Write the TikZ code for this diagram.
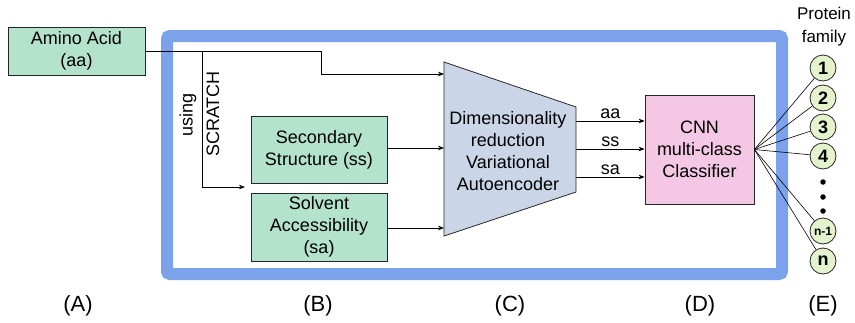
\documentclass[tikz,border=0pt]{standalone}
\usepackage{fontspec}
\setmainfont{Liberation Sans}
\usetikzlibrary{arrows.meta}
\definecolor{frameblue}{HTML}{7BA2EA}
\definecolor{boxgreen}{HTML}{B3E2CD}
\definecolor{vaeblue}{HTML}{CBD5E8}
\definecolor{cnnpink}{HTML}{F4C8E4}
\definecolor{circgreen}{HTML}{E4F2CE}
\begin{document}
\begin{tikzpicture}[x=1pt,y=-1pt,
  font=\fontsize{18}{22}\selectfont,
  inbox/.style={draw=black!85,fill=boxgreen,line width=0.8pt,align=center,inner sep=0pt},
  arr/.style={-{Stealth[length=6pt,width=4.5pt]},line width=0.6pt},
  fanline/.style={line width=0.6pt},
  fam/.style={circle,draw=black!85,fill=circgreen,line width=0.8pt,minimum size=26pt,inner sep=0pt,font=\fontsize{18}{18}\selectfont\bfseries},
  dotn/.style={circle,fill=black,minimum size=5.5pt,inner sep=0pt},
  lab/.style={font=\fontsize{22}{22}\selectfont}]
\useasboundingbox (0,0) rectangle (855,322);
% blue frame
\draw[frameblue,line width=12pt,rounded corners=3pt] (167,36) rectangle (782,274);
% nodes
\node[inbox,minimum width=137pt,minimum height=48pt] (aa) at (76.5,51) {Amino Acid\\(aa)};
\node[inbox,minimum width=136pt,minimum height=67pt] (ss) at (319,149.5) {Secondary\\Structure (ss)};
\node[inbox,minimum width=136pt,minimum height=68pt] (sa) at (319,227) {Solvent\\Accessibility\\(sa)};
\draw[black!85,fill=vaeblue,line width=0.8pt] (444,62) -- (576,107) -- (576,192) -- (444,236) -- cycle;
\node[align=center] (vae) at (508,151) {Dimensionality\\reduction\\Variational\\Autoencoder};
\node[draw=black!85,fill=cnnpink,line width=0.8pt,minimum width=109pt,minimum height=109pt,align=center,inner sep=0pt] (cnn) at (699.5,149.5) {CNN\\multi-class\\Classifier};
% text labels
\node[rotate=90] (using) at (188,115) {using};
\node[rotate=90] (scratch) at (213,114) {SCRATCH};
\node[align=center,font=\fontsize{17}{23}\selectfont] (pf) at (824,27) {Protein\\family};
% coordinates
\coordinate (v1) at (444,74);
\coordinate (v2) at (444,148);
\coordinate (v3) at (444,228);
\coordinate (br) at (202,51);
\coordinate (sstop) at (245,187);
\coordinate (o1) at (576,121);
\coordinate (o2) at (576,149);
\coordinate (o3) at (576,177);
% connectors
\draw[arr] (aa.east) -| (321,74) -- (v1);
\draw[arr] (br) |- (sstop);
\draw[arr] (ss.east |- v2) -- (v2);
\draw[arr] (sa.east |- v3) -- (v3);
\draw[arr] (o1) -- (cnn.west |- o1) node[midway,above=-1pt] {aa};
\draw[arr] (o2) -- (cnn.west |- o2) node[midway,above=-1pt] {ss};
\draw[arr] (o3) -- (cnn.west |- o3) node[midway,above=-1pt] {sa};
% family circles
\node[fam] (c1) at (823,68) {1};
\node[fam] (c2) at (823,98) {2};
\node[fam] (c3) at (823,127) {3};
\node[fam] (c4) at (823,156) {4};
\node[dotn] (d1) at (823,182) {};
\node[dotn] (d2) at (823,197) {};
\node[dotn] (d3) at (823,211) {};
\node[fam,font=\fontsize{12}{12}\selectfont\bfseries] (cn1) at (823,231) {n-1};
\node[fam] (cn) at (823,261) {n};
\coordinate (fan) at (cnn.east);
\foreach \c in {c1,c2,c3,c4,cn1,cn} \draw[fanline] (fan) -- (\c);
% bottom labels
\node[lab] (A) at (78,306) {(A)};
\node[lab] (B) at (318,306) {(B)};
\node[lab] (C) at (510,306) {(C)};
\node[lab] (D) at (700,306) {(D)};
\node[lab] (E) at (823,306) {(E)};
\end{tikzpicture}
\end{document}
